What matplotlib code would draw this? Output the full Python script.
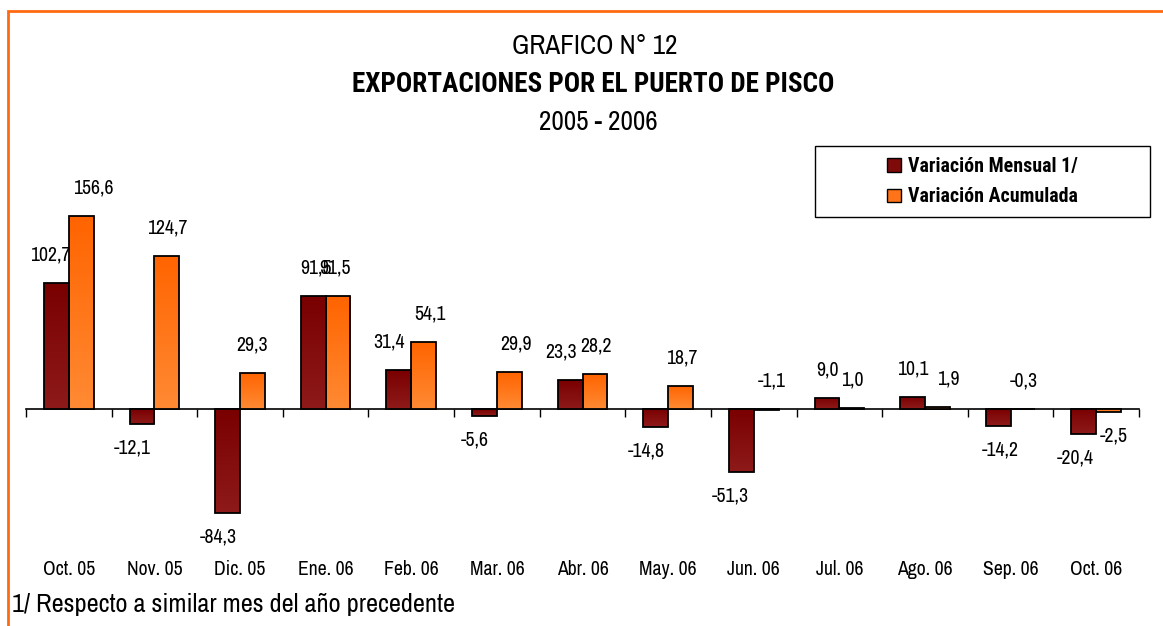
import numpy as np
import matplotlib
matplotlib.use("Agg")
import matplotlib.pyplot as plt
from matplotlib.patches import Rectangle, Patch
from matplotlib.colors import LinearSegmentedColormap

categories = ["Oct. 05", "Nov. 05", "Dic. 05", "Ene. 06", "Feb. 06", "Mar. 06", "Abr. 06",
              "May. 06", "Jun. 06", "Jul. 06", "Ago. 06", "Sep. 06", "Oct. 06"]
mensual = [102.7, -12.1, -84.3, 91.5, 31.4, -5.6, 23.3, -14.8, -51.3, 9.0, 10.1, -14.2, -20.4]
acumulada = [156.6, 124.7, 29.3, 91.5, 54.1, 29.9, 28.2, 18.7, -1.1, 1.0, 1.9, -0.3, -2.5]
series_names = ["Variación Mensual 1/", "Variación Acumulada"]

# label horizontal nudges (pixels) and side (+1 above, -1 below)
dx_m = [-6, -10, -9, 3, -10, -10, -9, -9, -11, 1, 0, 2, -9]
dx_a = [12, 0, 0, -3, 6, 7, 1, 1, 6, 1, 11, 1, 5]
side_a = [1, 1, 1, 1, 1, 1, 1, 1, 1, 1, 1, 1, -1]

FONT = ['Archivo Narrow', 'Liberation Sans', 'DejaVu Sans']
FONT_B = ['Roboto Condensed', 'Fira Sans Condensed', 'Liberation Sans', 'DejaVu Sans']
plt.rcParams['font.family'] = FONT

W, H = 1163, 626
fig = plt.figure(figsize=(W / 100, H / 100), dpi=100)
fig.patch.set_facecolor('white')

ax_left, ax_right = 26, 1139
ax_top, ax_bot = 187.6, 552.9
ax = fig.add_axes([ax_left / W, 1 - ax_bot / H, (ax_right - ax_left) / W, (ax_bot - ax_top) / H])
ymin, ymax = -117, 180
ax.patch.set_alpha(0)

x = np.arange(len(categories)) + 0.5
bw = 0.29
cmap_m = LinearSegmentedColormap.from_list('m', ['#7A0000', '#8E1A1A'])
cmap_a = LinearSegmentedColormap.from_list('a', ['#FF6400', '#FF8A33'])

def grad_bars(xs, vals, cmap):
    bars = ax.bar(xs, vals, width=bw, align='edge', facecolor='none',
                  edgecolor='black', linewidth=1.3, zorder=3)
    grad = np.linspace(0, 1, 100).reshape(-1, 1)
    for b in bars:
        x0, y0 = b.get_x(), b.get_y()
        w, h = b.get_width(), b.get_height()
        lo, hi = min(y0, y0 + h), max(y0, y0 + h)
        im = ax.imshow(grad, cmap=cmap, aspect='auto', extent=(x0, x0 + w, lo, hi),
                       origin='upper', zorder=2)
        im.set_clip_path(b)
    return bars

bars_m = grad_bars(x - bw, mensual, cmap_m)
bars_a = grad_bars(x, acumulada, cmap_a)
ax.set_xlim(0, len(categories))
ax.set_ylim(ymin, ymax)

def fmt(v):
    return f"{v:.1f}".replace('.', ',')

LS = 14.2
for i in range(len(categories)):
    v = mensual[i]
    s = 1 if v >= 0 else -1
    ax.annotate(fmt(v), (x[i] - bw / 2, v), xytext=(dx_m[i] * 0.72, (28 if s > 0 else -24) * 0.72),
                textcoords='offset points', ha='center', va='center', fontsize=LS, zorder=1)
    v = acumulada[i]
    s = side_a[i]
    ax.annotate(fmt(v), (x[i] + bw / 2, v if s * v > 0 else 0),
                xytext=(dx_a[i] * 0.72, (28 if s > 0 else -24) * 0.72),
                textcoords='offset points', ha='center', va='center', fontsize=LS, zorder=4)

# category labels at bottom
for sp in ax.spines.values():
    sp.set_visible(False)
ax.set_yticks([])
ax.set_xticks(x)
ax.set_xticklabels(categories, fontsize=14.2)
ax.tick_params(axis='x', length=0, pad=5)

# baseline axis with boundary ticks
sec = ax.secondary_xaxis((0 - ymin) / (ymax - ymin))
sec.set_xticks(np.arange(len(categories) + 1))
sec.set_xticklabels([])
sec.tick_params(axis='x', direction='out', length=6, width=1, color='black')
sec.spines['bottom'].set_color('black')
sec.spines['bottom'].set_linewidth(1.2)

# titles
fig.text(595 / W, 1 - 47 / H, "GRAFICO N° 12", ha='center', va='center', fontsize=19.5)
fig.text(593 / W, 1 - 84 / H, "EXPORTACIONES POR EL PUERTO DE PISCO", ha='center', va='center',
         fontsize=19.5, fontweight='bold', family=FONT_B)
fig.text(598 / W, 1 - 122 / H, "2005 - 2006", ha='center', va='center', fontsize=19.5)

# footnote
fig.text(12 / W, 1 - 604 / H, "1/ Respecto a similar mes del año precedente", ha='left', va='center',
         fontsize=19)

# legend box
lx0, lx1, ly0, ly1 = 815, 1150, 146, 217
fig.patches.append(Rectangle((lx0 / W, 1 - ly1 / H), (lx1 - lx0) / W, (ly1 - ly0) / H,
                             transform=fig.transFigure, facecolor='white', edgecolor='black',
                             linewidth=1.0, zorder=5))
handles = [Patch(facecolor='#7F0A0A', edgecolor='black', linewidth=1),
           Patch(facecolor='#FF7418', edgecolor='black', linewidth=1)]
leg = fig.legend(handles, series_names, loc='center',
                 bbox_to_anchor=((lx0 + lx1) / 2 / W, 1 - (ly0 + ly1) / 2 / H),
                 frameon=False, prop={'weight': 'bold', 'size': 14.3, 'family': FONT_B},
                 handlelength=0.7, handleheight=0.7, handletextpad=0.4, labelspacing=0.6)
leg.set_zorder(6)

# orange border (top and left)
fig.patches.append(Rectangle((8 / W, -0.1), 2.0, 1.1 - 11 / H, transform=fig.transFigure,
                             facecolor='none', edgecolor='#FF6A10', linewidth=2, zorder=10,
                             clip_on=False))

fig.savefig("out.png", dpi=100)
